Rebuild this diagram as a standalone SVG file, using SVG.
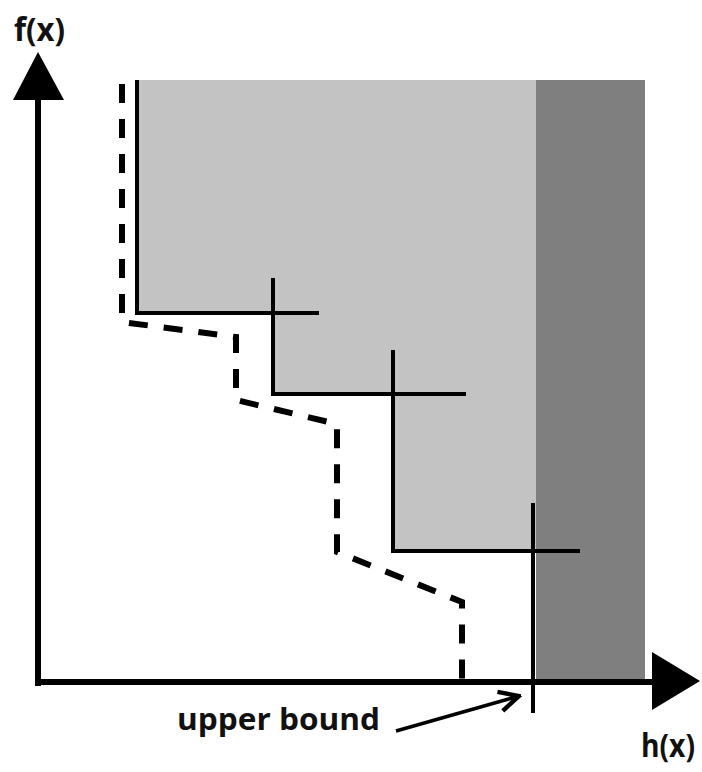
<svg xmlns="http://www.w3.org/2000/svg" width="702" height="772" viewBox="0 0 702 772">
  <style>
    .solid { fill: none; stroke: #000; stroke-width: 4; }
    .dash { fill: none; stroke: #000; stroke-width: 6; stroke-dasharray: 19 16; stroke-linejoin: miter; }
    .axis { stroke: #000; stroke-width: 6; fill: none; }
    .label { font-family: "Open Sans", "Liberation Sans", sans-serif; font-weight: bold; fill: #111; }
  </style>
  <defs>
    <marker id="open-arrow" viewBox="0 0 10 10" refX="9" refY="5" markerWidth="7" markerHeight="7" markerUnits="strokeWidth" orient="auto">
      <path d="M1,1 L9,5 L1,9" fill="none" stroke="#000" stroke-width="1.8"/>
    </marker>
  </defs>

  <rect width="702" height="772" fill="#fff"/>

  <!-- feasible region (light) and region beyond the bound (dark) -->
  <g id="regions">
    <polygon points="136,80 536,80 536,551 394,551 394,394 273,394 273,313 136,313" fill="#c3c3c3"/>
    <rect x="536" y="80" width="109" height="601" fill="#7f7f7f"/>
  </g>

  <!-- staircase front with cross ticks -->
  <g id="front">
    <polyline class="solid" points="137,80 137,313 319,313"/>
    <polyline class="solid" points="273,278 273,394 466,394"/>
    <polyline class="solid" points="393,350 393,551 580,551"/>
    <line class="solid" x1="533" y1="503" x2="533" y2="713"/>
  </g>

  <!-- dashed approximation -->
  <g id="approx">
    <polyline class="dash" points="122,84 122,322 236,337 236,400 337,424 337,552 462,602 462,680"/>
  </g>

  <!-- axes -->
  <g id="axes">
    <line class="axis" x1="38" y1="98" x2="38" y2="686"/>
    <polygon points="38,52 13,100 64,100" fill="#000"/>
    <line class="axis" x1="35" y1="682" x2="655" y2="682"/>
    <polygon points="700,681 652,652 652,710" fill="#000"/>
  </g>

  <g id="labels">
    <text class="label" x="14" y="41" font-size="32" textLength="51" lengthAdjust="spacingAndGlyphs">f(x)</text>
    <text class="label" x="641" y="757" font-size="32" textLength="54" lengthAdjust="spacingAndGlyphs">h(x)</text>
    <text class="label" x="177" y="730" font-size="31" textLength="203" lengthAdjust="spacingAndGlyphs">upper bound</text>
  </g>

  <g id="connectors">
    <line x1="396" y1="731" x2="519" y2="696" stroke="#000" stroke-width="3.5" marker-end="url(#open-arrow)"/>
  </g>
</svg>
